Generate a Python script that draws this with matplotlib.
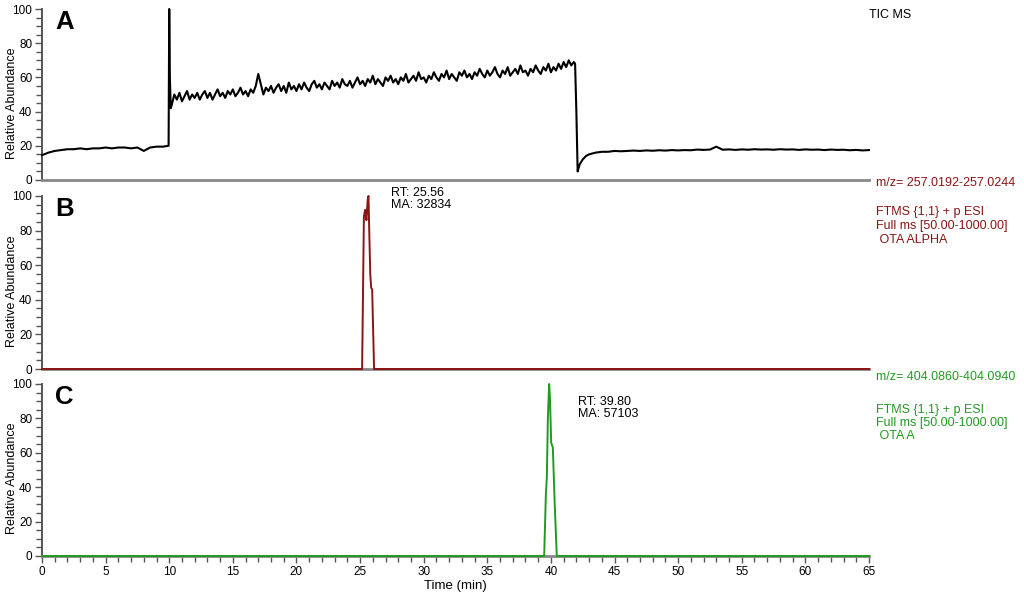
import numpy as np
from matplotlib import pyplot as plt
from matplotlib.ticker import MultipleLocator

plt.rcParams['font.family'] = ['Liberation Sans', 'DejaVu Sans']

# ---- panel A: total ion current ----
tic_start = [14.5, 16, 17, 17.5, 18, 18, 18.5, 18, 18.5, 18.5,
             19, 18.5, 19, 19, 18.5, 19, 17, 19, 19.5, 19.5]  # 0 .. 9.5 every 0.5
tic_jump_t = [9.95, 10.0, 10.05, 10.12]
tic_jump = [20, 100, 60, 42]
tic_plateau = [                                              # 10.2 .. 41.8 every 0.2
    44, 50, 47, 51, 46, 49, 52, 47, 50, 48,
    51, 47, 50, 52, 48, 51, 47, 50, 53, 49,
    51, 48, 52, 50, 53, 49, 51, 54, 50, 52,
    49, 53, 51, 55, 62, 56, 50, 54, 52, 55,
    51, 54, 56, 52, 55, 51, 57, 53, 55, 52,
    56, 53, 57, 54, 52, 56, 58, 54, 56, 53,
    57, 55, 53, 58, 55, 57, 54, 59, 56, 55,
    58, 54, 57, 60, 56, 58, 55, 59, 57, 61,
    56, 59, 57, 55, 60, 58, 61, 57, 59, 56,
    60, 58, 62, 57, 59, 61, 58, 63, 59, 60,
    57, 61, 59, 63, 60, 58, 62, 60, 64, 59,
    62, 60, 58, 63, 61, 64, 60, 62, 59, 63,
    61, 65, 62, 60, 64, 61, 63, 66, 62, 60,
    64, 62, 66, 61, 63, 65, 62, 67, 63, 64,
    61, 65, 63, 67, 64, 62, 66, 64, 68, 63,
    66, 64, 68, 65, 69, 66, 70, 67, 69]
tic_drop_t = [41.9, 42.0, 42.1, 42.25, 42.5, 42.75, 43.0, 43.5, 44.0]
tic_drop = [68, 40, 5, 9, 12, 14, 15, 16, 16.5]
tic_end = [16.5, 17, 16.8, 17, 17.2, 17, 17.3, 17.1, 17.4, 17.2,   # 44.5 .. 65 every 0.5
           17.5, 17.3, 17.5, 17.4, 17.8, 17.6, 17.8, 19.5, 17.7, 17.9,
           17.6, 17.9, 17.7, 18, 17.8, 17.9, 17.7, 18, 17.8, 17.9,
           17.6, 17.9, 17.7, 17.8, 17.5, 17.8, 17.6, 17.7, 17.4, 17.6,
           17.3, 17.5]

tic_t = np.concatenate([np.linspace(0, 9.5, len(tic_start)), tic_jump_t,
                        np.linspace(10.2, 41.8, len(tic_plateau)), tic_drop_t,
                        np.linspace(44.5, 65, len(tic_end))])
tic_y = np.concatenate([tic_start, tic_jump, tic_plateau, tic_drop, tic_end])

# ---- panel B: OTA alpha ----
alpha_t = [0, 25.16, 25.3, 25.4, 25.5, 25.6, 25.66, 25.72, 25.8, 25.87, 25.95, 26.1, 65]
alpha_y = [0, 0, 88, 92, 86, 98, 100, 80, 55, 47, 46, 0, 0]

# ---- panel C: OTA ----
ota_t = [0, 39.47, 39.6, 39.68, 39.76, 39.86, 39.93, 40.02, 40.15, 40.3, 40.46, 65]
ota_y = [0, 0, 35, 46, 80, 100, 91, 66, 63, 30, 0, 0]

red = '#8b1414'
green = '#229a22'

fig = plt.figure(figsize=(10.24, 6.06), dpi=100)
left, width = 42 / 1024, 827 / 1024
panels = [(9, 180), (196, 369), (384, 556)]
axes = []
for top, bottom in panels:
    ax = fig.add_axes([left, 1 - bottom / 606, width, (bottom - top) / 606])
    axes.append(ax)

for i, ax in enumerate(axes):
    ax.set_xlim(0, 65)
    ax.set_ylim(0, 100)
    for s in ['top', 'right']:
        ax.spines[s].set_visible(False)
    ax.spines['left'].set_color('#555555')
    ax.spines['left'].set_linewidth(1.4)
    ax.spines['bottom'].set_color('#888888')
    ax.spines['bottom'].set_linewidth(2)
    ax.yaxis.set_major_locator(MultipleLocator(20))
    ax.yaxis.set_minor_locator(MultipleLocator(5))
    ax.tick_params(axis='y', which='major', length=5, width=1, color='#555555',
                   labelsize=8.5, pad=2)
    ax.tick_params(axis='y', which='minor', length=4, width=1, color='#555555')
    ax.set_ylabel('Relative Abundance', fontsize=9, labelpad=1)
    ax.yaxis.set_label_coords(-0.029, 0.45)
    ax.xaxis.set_major_locator(MultipleLocator(5))
    ax.xaxis.set_minor_locator(MultipleLocator(1))
    if i < 2:
        ax.tick_params(axis='x', which='both', bottom=False, labelbottom=False)
    else:
        ax.tick_params(axis='x', which='major', length=5, width=1, color='#555555',
                       labelsize=8.5, pad=2)
        ax.tick_params(axis='x', which='minor', length=4, width=1, color='#555555')
        ax.set_xlabel('Time (min)', fontsize=9.5, labelpad=2)

axes[0].plot(tic_t, tic_y, color='black', lw=1.5, clip_on=False, zorder=3)
axes[1].plot(alpha_t, alpha_y, color=red, lw=1.4, clip_on=False, zorder=3)
axes[2].plot(ota_t, ota_y, color=green, lw=1.4, clip_on=False, zorder=3)

for ax, letter in zip(axes, 'ABC'):
    ax.text(0.016, 0.995, letter, transform=ax.transAxes, fontsize=18.5,
            fontweight='bold', va='top', ha='left')

axes[1].text(27.4, 105, 'RT: 25.56\nMA: 32834', fontsize=9, va='top', ha='left',
             linespacing=0.95, clip_on=False)
axes[2].text(42.1, 93, 'RT: 39.80\nMA: 57103', fontsize=9, va='top', ha='left',
             linespacing=0.95, clip_on=False)

tx = 876 / 1024
fs = 9
fig.text(869 / 1024, 1 - 15 / 606, 'TIC MS', fontsize=fs, va='center')
fig.text(tx, 1 - 183 / 606, 'm/z= 257.0192-257.0244', fontsize=fs, color=red,
         va='center')
fig.text(tx, 1 - 212 / 606, 'FTMS {1,1} + p ESI', fontsize=fs, color=red, va='center')
fig.text(tx, 1 - 226 / 606, 'Full ms [50.00-1000.00]', fontsize=fs, color=red,
         va='center')
fig.text(tx, 1 - 240 / 606, ' OTA ALPHA', fontsize=fs, color=red, va='center')
fig.text(tx, 1 - 377 / 606, 'm/z= 404.0860-404.0940', fontsize=fs, color=green,
         va='center')
fig.text(tx, 1 - 410 / 606, 'FTMS {1,1} + p ESI', fontsize=fs, color=green,
         va='center')
fig.text(tx, 1 - 423 / 606, 'Full ms [50.00-1000.00]', fontsize=fs, color=green,
         va='center')
fig.text(tx, 1 - 436 / 606, ' OTA A', fontsize=fs, color=green, va='center')

fig.savefig('out.png', dpi=100)
